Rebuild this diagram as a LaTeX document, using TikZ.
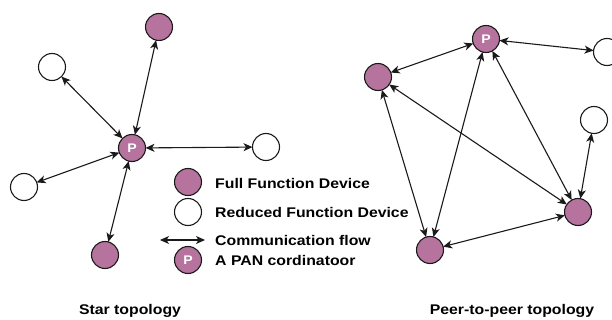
\documentclass[tikz,border=0pt]{standalone}
\usepackage{fontspec}
\setmainfont{Liberation Sans}
\newfontfamily\labfont[FakeStretch=1.13]{Liberation Sans Bold}
\usetikzlibrary{arrows.meta}
\definecolor{ffd}{HTML}{B5739D}
\definecolor{edgecol}{HTML}{1A1A1A}
\tikzset{
  dev/.style={circle, draw=edgecol, line width=1.1pt, minimum size=27pt, inner sep=0pt, outer sep=0pt},
  full/.style={dev, fill=ffd},
  reduced/.style={dev, fill=white},
  coord/.style={full, text=white, font=\labfont\fontsize{12.5}{12.5}\selectfont},
  link/.style={line width=1.1pt, draw=edgecol,
    {Stealth[length=9pt,width=8pt,inset=2.5pt]}-{Stealth[length=9pt,width=8pt,inset=2.5pt]}},
  lab/.style={font=\labfont\fontsize{14}{16}\selectfont, text=black, inner sep=0pt},
}
\begin{document}
\begin{tikzpicture}[x=1pt,y=-1pt]
\useasboundingbox (0,0) rectangle (612,320);
\clip (0,0) rectangle (612,320);

% star topology
\node[coord]   (sP)  at (132,148) {P};
\node[full]    (sN)  at (159,27)  {};
\node[reduced] (sNW) at (52,67)   {};
\node[reduced] (sE)  at (266,147) {};
\node[reduced] (sW)  at (24,187)  {};
\node[full]    (sS)  at (105,255) {};
\foreach \n in {sN,sNW,sE,sW,sS} \draw[link] (sP) -- (\n);

% peer-to-peer topology
\node[coord]   (pP)  at (486,39)  {P};
\node[reduced] (pR1) at (607,52)  {};
\node[full]    (pL)  at (378,77)  {};
\node[reduced] (pR2) at (594,120) {};
\node[full]    (pR)  at (578,212) {};
\node[full]    (pB)  at (430,250) {};
\draw[link] (pP) -- (pR1);
\draw[link] (pP) -- (pL);
\draw[link] (pP) -- (pB);
\draw[link] (pP) -- (pR);
\draw[link] (pL) -- (pB);
\draw[link] (pL) -- (pR);
\draw[link] (pB) -- (pR);
\draw[link] (pR2) -- (pR);

% legend
\node[full]    (kF) at (188,182) {};
\node[reduced] (kR) at (188,212) {};
\coordinate (kA1) at (160,240);
\coordinate (kA2) at (205,240);
\draw[link] (kA1) -- (kA2);
\node[coord]   (kP) at (188,260) {P};
\node[lab, anchor=west] (tF) at (215,183) {Full Function Device};
\node[lab, anchor=west] (tR) at (215,212) {Reduced Function Device};
\node[lab, anchor=west] (tA) at (215,240) {Communication flow};
\node[lab, anchor=west] (tP) at (215,260) {A PAN cordinatoor};

% captions
\node[lab] (cS) at (130,311) {Star topology};
\node[lab] (cP) at (512,311) {Peer-to-peer topology};
\end{tikzpicture}
\end{document}
